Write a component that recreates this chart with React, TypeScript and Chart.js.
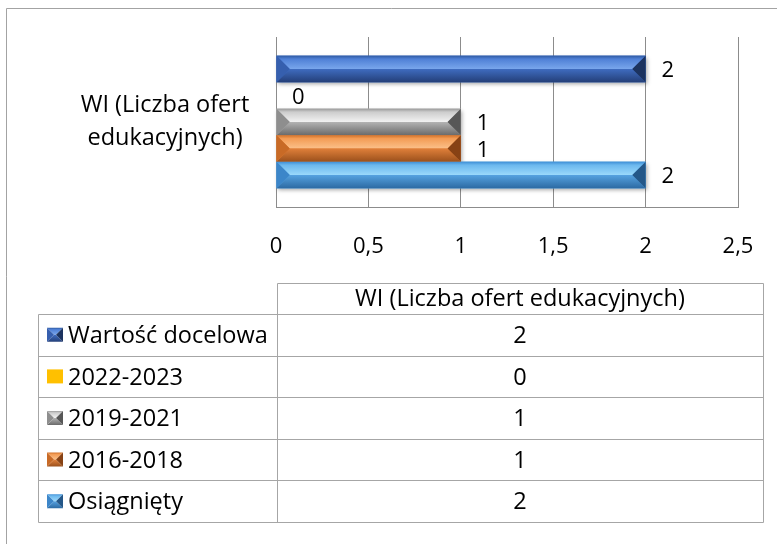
import React, { useEffect, useRef } from 'react';
import { Chart, registerables } from 'chart.js';

Chart.register(...registerables);

// ---- data ----
const categories = ['WI (Liczba ofert edukacyjnych)'];
const categoryTickLines = ['WI (Liczba ofert', 'edukacyjnych)'];
const seriesNames = ['Wartość docelowa', '2022-2023', '2019-2021', '2016-2018', 'Osiągnięty'];
const seriesValues = [2, 0, 1, 1, 2];
const xTickValues = [0, 0.5, 1, 1.5, 2, 2.5];

// ---- style ----
const FONT = "'Open Sans', sans-serif";
const FS = 22; // tick + data labels
const FS_T = 23.5; // table + category label

type Pal = { flat?: string; edge: string; top: string; hi: string; bot1: string; bot2: string; left: string; right: string };
const palettes: Pal[] = [
  { edge: '#2f5aa3', top: '#4f80d6', hi: '#79a6ec', bot1: '#3f6cc0', bot2: '#243f78', left: '#365fae', right: '#1c335f' },
  { flat: '#ffc000', edge: '#ffc000', top: '#ffc000', hi: '#ffc000', bot1: '#ffc000', bot2: '#ffc000', left: '#ffc000', right: '#ffc000' },
  { edge: '#9a9a9a', top: '#cdcdcd', hi: '#f2f2f2', bot1: '#b3b3b3', bot2: '#6a6a6a', left: '#8e8e8e', right: '#575757' },
  { edge: '#d2722a', top: '#f39c55', hi: '#fbc089', bot1: '#e0803a', bot2: '#9a501c', left: '#c86a26', right: '#874214' },
  { edge: '#3f8fd6', top: '#6cb8ee', hi: '#9bd9fb', bot1: '#56a2e0', bot2: '#2c6aa3', left: '#3c86c9', right: '#245788' },
];

function drawBevel(ctx: CanvasRenderingContext2D, x0: number, x1: number, yt: number, yb: number, p: Pal) {
  if (x1 - x0 < 0.5) return;
  if (p.flat) {
    ctx.fillStyle = p.flat;
    ctx.fillRect(x0, yt, x1 - x0, yb - yt);
    return;
  }
  const ym = (yt + yb) / 2;
  const d = Math.min((yb - yt) / 2, (x1 - x0) / 2);
  let g = ctx.createLinearGradient(0, yt, 0, ym);
  g.addColorStop(0, p.edge);
  g.addColorStop(0.25, p.top);
  g.addColorStop(1, p.hi);
  ctx.fillStyle = g;
  ctx.beginPath();
  ctx.moveTo(x0, yt); ctx.lineTo(x1, yt); ctx.lineTo(x1 - d, ym); ctx.lineTo(x0 + d, ym); ctx.closePath();
  ctx.fill();
  g = ctx.createLinearGradient(0, ym, 0, yb);
  g.addColorStop(0, p.bot1);
  g.addColorStop(1, p.bot2);
  ctx.fillStyle = g;
  ctx.beginPath();
  ctx.moveTo(x0, yb); ctx.lineTo(x1, yb); ctx.lineTo(x1 - d, ym); ctx.lineTo(x0 + d, ym); ctx.closePath();
  ctx.fill();
  ctx.fillStyle = p.left;
  ctx.beginPath();
  ctx.moveTo(x0, yt); ctx.lineTo(x0 + d, ym); ctx.lineTo(x0, yb); ctx.closePath();
  ctx.fill();
  ctx.fillStyle = p.right;
  ctx.beginPath();
  ctx.moveTo(x1, yt); ctx.lineTo(x1 - d, ym); ctx.lineTo(x1, yb); ctx.closePath();
  ctx.fill();
}

const TABLE = { left: 38, mid: 277, right: 763, headTop: 283, headBottom: 314, rowH: 41.6, keyX: 47, keyW: 16, keyH: 14, textX: 68 };

const fmt = (v: number) => String(v).replace('.', ',');

const framePlugin = {
  id: 'frame',
  beforeDraw(chart: any) {
    const ctx = chart.ctx;
    ctx.save();
    ctx.strokeStyle = '#a3a3a3';
    ctx.lineWidth = 1;
    ctx.beginPath();
    ctx.moveTo(6.5, chart.height);
    ctx.lineTo(6.5, 8.5);
    ctx.lineTo(chart.width, 8.5);
    ctx.stroke();
    ctx.restore();
  },
};

const bevelPlugin = {
  id: 'bevel',
  beforeDatasetsDraw(chart: any) {
    const ctx = chart.ctx;
    ctx.save();
    chart.data.datasets.forEach((ds: any, i: number) => {
      const meta = chart.getDatasetMeta(i);
      if (palettes[i].flat) return;
      meta.data.forEach((el: any) => {
        const x0 = Math.min(el.base, el.x), x1 = Math.max(el.base, el.x);
        if (x1 - x0 < 1) return;
        ctx.shadowColor = 'rgba(0,0,0,0.35)';
        ctx.shadowBlur = 4;
        ctx.shadowOffsetY = 2;
        ctx.shadowOffsetX = 1;
        ctx.fillStyle = palettes[i].bot1;
        ctx.fillRect(x0, el.y - el.height / 2, x1 - x0, el.height);
      });
    });
    ctx.restore();
  },
  afterDatasetsDraw(chart: any) {
    const ctx = chart.ctx;
    ctx.save();
    chart.data.datasets.forEach((ds: any, i: number) => {
      const meta = chart.getDatasetMeta(i);
      meta.data.forEach((el: any, j: number) => {
        const x0 = Math.min(el.base, el.x), x1 = Math.max(el.base, el.x);
        drawBevel(ctx, x0, x1, el.y - el.height / 2, el.y + el.height / 2, palettes[i]);
        ctx.fillStyle = '#000';
        ctx.font = `${FS}px ${FONT}`;
        ctx.textAlign = 'left';
        ctx.textBaseline = 'middle';
        ctx.fillText(fmt(ds.data[j]), el.x + 16, el.y + 2);
      });
    });
    ctx.restore();
  },
};

const tablePlugin = {
  id: 'dataTable',
  afterDraw(chart: any) {
    const ctx = chart.ctx;
    const T = TABLE;
    const n = chart.data.datasets.length;
    const bottom = T.headBottom + n * T.rowH;
    const px = (v: number) => Math.round(v) + 0.5;
    ctx.save();
    ctx.strokeStyle = '#a6a6a6';
    ctx.lineWidth = 1;
    ctx.beginPath();
    ctx.moveTo(px(T.mid), px(bottom));
    ctx.lineTo(px(T.mid), px(T.headTop));
    ctx.lineTo(px(T.right), px(T.headTop));
    ctx.lineTo(px(T.right), px(bottom));
    ctx.moveTo(px(T.left), px(T.headBottom));
    ctx.lineTo(px(T.left), px(bottom));
    for (let i = 0; i <= n; i++) {
      const y = px(T.headBottom + i * T.rowH);
      ctx.moveTo(px(T.left), y);
      ctx.lineTo(px(T.right), y);
    }
    ctx.stroke();

    ctx.fillStyle = '#000';
    ctx.font = `${FS_T}px ${FONT}`;
    ctx.textBaseline = 'middle';
    ctx.textAlign = 'center';
    const cx = (T.mid + T.right) / 2;
    ctx.fillText(String(chart.data.labels[0]), cx, (T.headTop + T.headBottom) / 2 + 1);
    chart.data.datasets.forEach((ds: any, i: number) => {
      const cy = T.headBottom + (i + 0.5) * T.rowH;
      drawBevel(ctx, T.keyX, T.keyX + T.keyW, cy - T.keyH / 2, cy + T.keyH / 2, palettes[i]);
      ctx.fillStyle = '#000';
      ctx.textAlign = 'left';
      ctx.fillText(ds.label, T.textX, cy + 1.5);
      ctx.textAlign = 'center';
      ctx.fillText(fmt(ds.data[0]), cx, cy + 1.5);
    });
    ctx.restore();
  },
};

export default function App() {
  const ref = useRef<HTMLCanvasElement | null>(null);
  useEffect(() => {
    if (!ref.current) return;
    const mc = document.createElement('canvas').getContext('2d')!;
    mc.font = `${FS_T}px ${FONT}`;
    const widest = Math.max(...categoryTickLines.map((l) => mc.measureText(l).width));
    const yPad = Math.max(0, 276 - 165 - widest / 2);

    const chart = new Chart(ref.current, {
      type: 'bar',
      data: {
        labels: categories,
        datasets: seriesNames.map((name, i) => ({
          label: name,
          data: [seriesValues[i]],
          backgroundColor: palettes[i].flat || palettes[i].bot1,
          borderWidth: 0,
          barPercentage: 1,
          categoryPercentage: 0.78,
        })),
      },
      options: {
        indexAxis: 'y',
        animation: false,
        responsive: true,
        maintainAspectRatio: false,
        layout: { padding: { left: 0, top: 37, right: 39, bottom: 544 - 207 - 50 } },
        plugins: { legend: { display: false }, tooltip: { enabled: false }, title: { display: false } },
        scales: {
          x: {
            type: 'linear',
            min: 0,
            max: 2.5,
            afterBuildTicks: (s: any) => {
              s.ticks = xTickValues.map((v) => ({ value: v }));
            },
            afterFit: (s: any) => {
              s.height = 50;
              s.paddingLeft = 0;
              s.paddingRight = 0;
            },
            ticks: {
              callback: (v: any) => fmt(Number(v)),
              font: { family: FONT, size: FS },
              color: '#000',
              padding: 27,
              maxRotation: 0,
            },
            grid: { color: '#8c8c8c', lineWidth: 1, drawTicks: false },
            border: { display: true, color: '#8c8c8c' },
          },
          y: {
            type: 'category',
            afterFit: (s: any) => {
              s.width = 276;
              s.paddingTop = 0;
              s.paddingBottom = 0;
            },
            ticks: {
              callback: () => categoryTickLines,
              font: { family: FONT, size: FS_T, lineHeight: 1.38 },
              color: '#000',
              crossAlign: 'center',
              padding: yPad,
            },
            grid: { display: false, drawTicks: false },
            border: { display: false },
          },
        },
      },
      plugins: [framePlugin, bevelPlugin, tablePlugin],
    } as any);
    return () => chart.destroy();
  }, []);

  return (
    <div style={{ position: 'fixed', left: 0, top: 0, width: 777, height: 544, background: '#fff' }}>
      <canvas ref={ref} />
    </div>
  );
}
